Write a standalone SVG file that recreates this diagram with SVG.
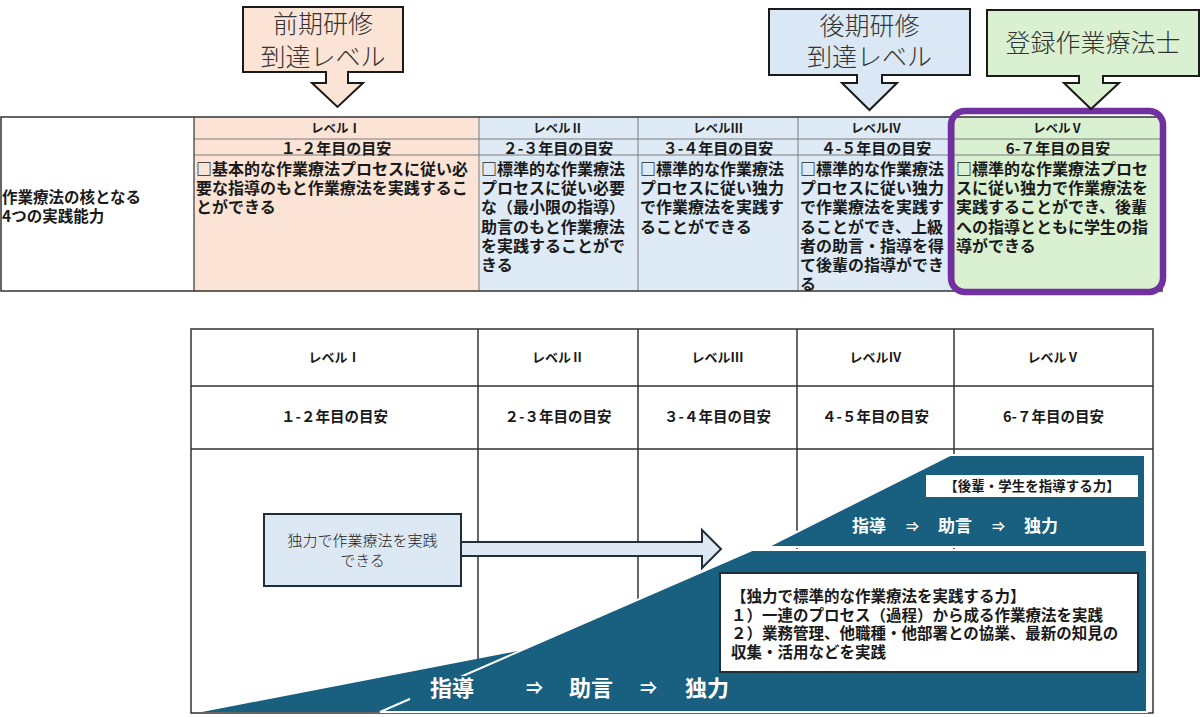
<svg xmlns="http://www.w3.org/2000/svg" width="1200" height="717" viewBox="0 0 1200 717">
<style>
text { font-family: "Noto Sans CJK JP", "Noto Sans", sans-serif; fill: #1a1a1a; }
.b { font-weight: 700; }
.c { text-anchor: middle; }
.call { font-size: 25px; font-weight: 300; fill: #333; text-anchor: middle; }
.callbox { stroke: #1a1a1a; stroke-width: 2; }
.lvl { font-size: 12.5px; font-weight: 700; text-anchor: middle; }
.lvl2 { font-size: 13px; font-weight: 700; text-anchor: middle; }
.yr { font-size: 15px; font-weight: 700; text-anchor: middle; }
.yr2 { font-size: 14.5px; font-weight: 700; text-anchor: middle; }
.ct { font-size: 16px; font-weight: 700; }
.grid { stroke: #7a7a7a; stroke-width: 1; fill: none; }
.grid2 { stroke: #333; stroke-width: 1.5; fill: none; }
.dark { fill: #195f80; stroke: #ffffff; stroke-width: 2; }
.wt { fill: #ffffff; font-weight: 700; }
.bx { font-size: 15.5px; font-weight: 700; }
</style>

<!-- Top table -->
<g id="top-table">
  <rect x="1" y="117" width="193" height="174" fill="#ffffff"/>
  <rect x="194" y="117" width="285" height="174" fill="#fbe4d5"/>
  <rect x="479" y="117" width="475" height="174" fill="#deeaf6"/>
  <rect x="954" y="117" width="208" height="174" fill="#daf1d1"/>
  <line class="grid" x1="194" y1="139" x2="1162" y2="139"/>
  <line class="grid" x1="194" y1="155" x2="1162" y2="155"/>
  <line class="grid" x1="479" y1="117" x2="479" y2="291"/>
  <line class="grid" x1="638" y1="117" x2="638" y2="291"/>
  <line class="grid" x1="798" y1="117" x2="798" y2="291"/>
  <line class="grid" x1="954" y1="117" x2="954" y2="291"/>
  <line x1="194" y1="117" x2="194" y2="291" stroke="#333" stroke-width="1.2"/>
  <rect x="1" y="117" width="1161" height="174" fill="none" stroke="#333" stroke-width="1.5"/>

  <text class="b" font-size="15.5" x="2" y="203">作業療法の核となる<tspan x="2" dy="19">4つの実践能力</tspan></text>

  <text class="lvl" x="336" y="132.5">レベルⅠ</text>
  <text class="lvl" x="558" y="132.5">レベルⅡ</text>
  <text class="lvl" x="718" y="132.5">レベルⅢ</text>
  <text class="lvl" x="876" y="132.5">レベルⅣ</text>
  <text class="lvl" x="1058" y="132.5">レベルⅤ</text>

  <text class="yr" x="336" y="153.5">１-２年目の目安</text>
  <text class="yr" x="558" y="153.5">２-３年目の目安</text>
  <text class="yr" x="718" y="153.5">３-４年目の目安</text>
  <text class="yr" x="876" y="153.5">４-５年目の目安</text>
  <text class="yr" x="1058" y="153.5">6-７年目の目安</text>

  <text class="ct" x="196" y="175">□基本的な作業療法プロセスに従い必<tspan x="196" dy="19.2">要な指導のもと作業療法を実践するこ</tspan><tspan x="196" dy="19.2">とができる</tspan></text>
  <text class="ct" x="481" y="175">□標準的な作業療法<tspan x="481" dy="19.2">プロセスに従い必要</tspan><tspan x="481" dy="19.2">な（最小限の指導）</tspan><tspan x="481" dy="19.2">助言のもと作業療法</tspan><tspan x="481" dy="19.2">を実践することがで</tspan><tspan x="481" dy="19.2">きる</tspan></text>
  <text class="ct" x="640" y="175">□標準的な作業療法<tspan x="640" dy="19.2">プロセスに従い独力</tspan><tspan x="640" dy="19.2">で作業療法を実践す</tspan><tspan x="640" dy="19.2">ることができる</tspan></text>
  <text class="ct" x="800" y="175">□標準的な作業療法<tspan x="800" dy="19.2">プロセスに従い独力</tspan><tspan x="800" dy="19.2">で作業療法を実践す</tspan><tspan x="800" dy="19.2">ることができ、上級</tspan><tspan x="800" dy="19.2">者の助言・指導を得</tspan><tspan x="800" dy="19.2">て後輩の指導ができ</tspan><tspan x="800" dy="19.2">る</tspan></text>
  <text class="ct" x="956" y="175">□標準的な作業療法プロセ<tspan x="956" dy="19.2">スに従い独力で作業療法を</tspan><tspan x="956" dy="19.2">実践することができ、後輩</tspan><tspan x="956" dy="19.2">への指導とともに学生の指</tspan><tspan x="956" dy="19.2">導ができる</tspan></text>
</g>

<g id="level5-highlight">
  <rect x="951" y="111" width="212" height="181" rx="14" ry="14" fill="none" stroke="#7030a0" stroke-width="6.5"/>
</g>

<!-- Callouts -->
<g id="callout-zenki">
  <path class="callbox" fill="#fbe4d5" d="M243,7 H403 V72 H348 V83 H363 L337.5,107 L312,83 H326 V72 H243 Z"/>
  <text class="call" x="323" y="33">前期研修<tspan x="323" dy="33">到達レベル</tspan></text>
</g>
<g id="callout-kouki">
  <path class="callbox" fill="#dae8f5" d="M769,9 H970 V75 H882 V83 H897 L869.5,110 L842,83 H857 V75 H769 Z"/>
  <text class="call" x="869.5" y="35">後期研修<tspan x="869.5" dy="31">到達レベル</tspan></text>
</g>
<g id="callout-touroku">
  <path class="callbox" fill="#daf1d1" d="M987,10 H1199 V76 H1103 V83 H1119 L1091,109 L1064,83 H1079 V76 H987 Z"/>
  <text class="call" x="1093" y="52">登録作業療法士</text>
</g>

<!-- Lower table -->
<g id="bottom-table">
  <rect x="191" y="329" width="962" height="384" fill="#ffffff" stroke="#333" stroke-width="1.5"/>
  <line class="grid2" x1="191" y1="386" x2="1153" y2="386"/>
  <line class="grid2" x1="191" y1="449" x2="1153" y2="449"/>
  <line class="grid2" x1="478" y1="329" x2="478" y2="713"/>
  <line class="grid2" x1="638" y1="329" x2="638" y2="713"/>
  <line class="grid2" x1="797" y1="329" x2="797" y2="713"/>
  <line class="grid2" x1="954" y1="329" x2="954" y2="713"/>

  <text class="lvl2" x="334.5" y="362">レベルⅠ</text>
  <text class="lvl2" x="558" y="362">レベルⅡ</text>
  <text class="lvl2" x="717.5" y="362">レベルⅢ</text>
  <text class="lvl2" x="875.5" y="362">レベルⅣ</text>
  <text class="lvl2" x="1053.5" y="362">レベルⅤ</text>

  <text class="yr2" x="334.5" y="422">１-２年目の目安</text>
  <text class="yr2" x="558" y="422">２-３年目の目安</text>
  <text class="yr2" x="717.5" y="422">３-４年目の目安</text>
  <text class="yr2" x="875.5" y="422">４-５年目の目安</text>
  <text class="yr2" x="1053.5" y="422">6-７年目の目安</text>
</g>

<!-- Dark stepped shapes -->
<g id="shape-wedge">
  <polygon points="202,712 523,650 560,712" fill="#195f80"/>
</g>
<g id="shape-lower">
  <polygon class="dark" points="752,550 1147,550 1147,712 380,712"/>
  <rect x="410" y="676" width="330" height="25" fill="#195f80"/>
  <text class="wt" font-size="22" x="430" y="696">指導</text>
  <text class="wt" font-size="17" x="526" y="694">⇒</text>
  <text class="wt" font-size="22" x="569" y="696">助言</text>
  <text class="wt" font-size="17" x="640" y="694">⇒</text>
  <text class="wt" font-size="22" x="685" y="696">独力</text>
</g>
<g id="shape-upper">
  <polygon class="dark" points="950,455 1145,455 1145,547 767,547"/>
  <rect x="926" y="475" width="212" height="22" fill="#ffffff"/>
  <text class="b c" font-size="13.5" x="1032" y="491">【後輩・学生を指導する力】</text>
  <text class="wt" font-size="17" x="852" y="532">指導</text>
  <text class="wt" font-size="13" x="906" y="531">⇒</text>
  <text class="wt" font-size="17" x="938" y="532">助言</text>
  <text class="wt" font-size="13" x="992" y="531">⇒</text>
  <text class="wt" font-size="17" x="1024" y="532">独力</text>
</g>

<g id="box-independent">
  <rect x="720" y="573" width="418" height="99" fill="#ffffff" stroke="#1f2f3a" stroke-width="2"/>
  <text class="bx" x="731" y="602">【独力で標準的な作業療法を実践する力】<tspan x="731" dy="18.5">１）一連のプロセス（過程）から成る作業療法を実践</tspan><tspan x="731" dy="18.5">２）業務管理、他職種・他部署との協業、最新の知見の</tspan><tspan x="731" dy="18.5">収集・活用などを実践</tspan></text>
</g>

<!-- Connectors -->
<g id="connectors">
  <polygon points="461,542 702,542 702,530 721,549 702,568 702,556 461,556" fill="#dce9f5" stroke="#1f2f3a" stroke-width="2" stroke-linejoin="miter"/>
</g>

<g id="box-dokuryoku">
  <rect x="264" y="514" width="197" height="72" fill="#dce9f5" stroke="#1f2f3a" stroke-width="2"/>
  <text class="c" font-size="15" font-weight="300" x="362.5" y="546" fill="#333">独力で作業療法を実践<tspan x="362.5" dy="20">できる</tspan></text>
</g>
</svg>
